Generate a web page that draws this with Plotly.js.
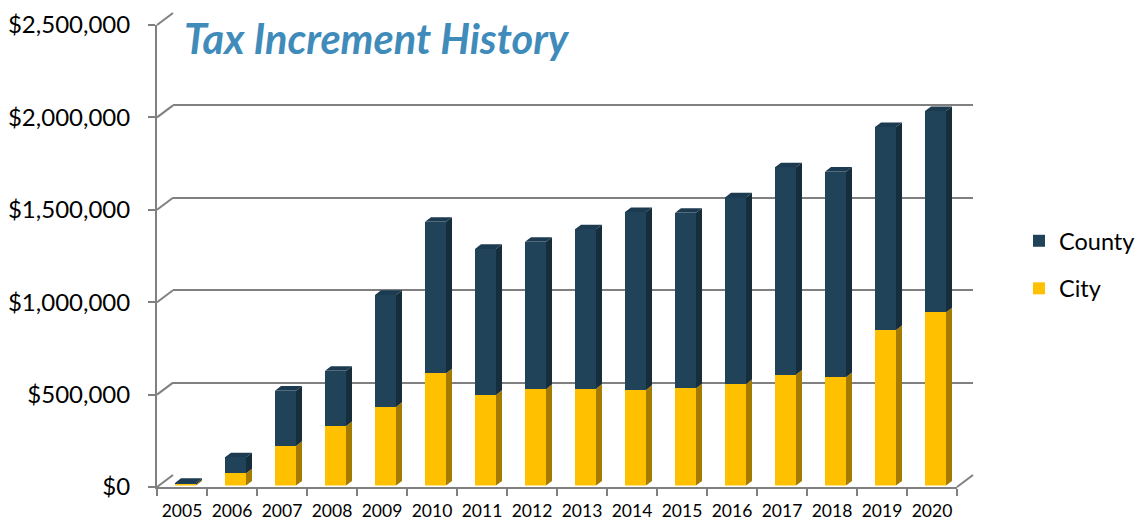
<!DOCTYPE html>
<html>
<head>
<meta charset="utf-8">
<script src="https://cdn.plot.ly/plotly-3.0.1.min.js"></script>
<style>html,body{margin:0;padding:0;background:#fff;}#chart{width:1143px;height:525px;}</style>
</head>
<body>
<div id="chart"></div>
<script>
// ---- data ----
const years = ['2005','2006','2007','2008','2009','2010','2011','2012','2013','2014','2015','2016','2017','2018','2019','2020'];
const city   = [6000, 66000, 214000, 322000, 425000, 607000, 490000, 521000, 524000, 517000, 526000, 549000, 600000, 587000, 841000, 937000];
const county = [8000, 87000, 299000, 299000, 606000, 820000, 790000, 798000, 862000, 963000, 950000, 1010000, 1122000, 1111000, 1099000, 1089000];
const yTicks = [0, 500000, 1000000, 1500000, 2000000, 2500000];
const seriesNames = ['County', 'City'];

// ---- geometry (pixels) ----
const W = 1143, H = 525;
const M = {l: 157, r: 170, t: 13, b: 38};
const PW = W - M.l - M.r;   // 816
const PH = H - M.t - M.b;   // 474
const depthX = 16, depthY = 12;       // back wall offset
const faceX = 3.5, faceY = 1.5;      // bar front-face offset
const yMax = 2500000;
const frontH = PH - depthY;          // 462
const barW = 0.42;
const sideDx = 6 / ((PW - depthX) / years.length);
const sideDy = 4.6 * yMax / frontH;

const colCounty = '#21435A', colCountySide = '#162D3C', colCountyTop = '#1D3B50';
const colCity = '#FFC000', colCitySide = '#A47B00';
const gridCol = '#808080';

const idx = years.map((_, i) => i);

function sidePolys(base, val) {
  const xs = [], ys = [];
  idx.forEach(i => {
    const b = base[i], t = base[i] + val[i];
    const x0 = i + barW / 2;
    xs.push(x0, x0 + sideDx, x0 + sideDx, x0, null);
    ys.push(b, b + sideDy, t + sideDy, t, null);
  });
  return {xs, ys};
}
function topPolys(tops) {
  const xs = [], ys = [];
  idx.forEach(i => {
    const t = tops[i];
    const xl = i - barW / 2, xr = i + barW / 2;
    xs.push(xl, xl + sideDx, xr + sideDx, xr, null);
    ys.push(t, t + sideDy, t + sideDy, t, null);
  });
  return {xs, ys};
}
const zeros = idx.map(() => 0);
const totals = idx.map(i => city[i] + county[i]);
const sCity = sidePolys(zeros, city);
const sCounty = sidePolys(city, county);
const tops = topPolys(totals);

const traces = [
  {type: 'scatter', x: years, y: zeros, xaxis: 'x', yaxis: 'y', mode: 'markers',
   marker: {opacity: 0}, showlegend: false, hoverinfo: 'skip'},
  {type: 'scatter', x: idx, y: zeros, xaxis: 'x2', yaxis: 'y2', mode: 'markers',
   marker: {opacity: 0}, showlegend: false, hoverinfo: 'skip'},
  {type: 'bar', name: seriesNames[1], x: idx, y: city, width: barW, xaxis: 'x3', yaxis: 'y3',
   marker: {color: colCity, line: {width: 0}}, legendgroup: 'b', legendrank: 2},
  {type: 'bar', name: seriesNames[0], x: idx, y: county, width: barW, xaxis: 'x3', yaxis: 'y3',
   marker: {color: colCounty, line: {width: 0}}, legendgroup: 'a', legendrank: 1},
  {type: 'scatter', x: sCity.xs, y: sCity.ys, xaxis: 'x3', yaxis: 'y3', mode: 'lines',
   fill: 'toself', fillcolor: colCitySide, line: {width: 0, color: colCitySide}, showlegend: false, hoverinfo: 'skip'},
  {type: 'scatter', x: sCounty.xs, y: sCounty.ys, xaxis: 'x3', yaxis: 'y3', mode: 'lines',
   fill: 'toself', fillcolor: colCountySide, line: {width: 0, color: colCountySide}, showlegend: false, hoverinfo: 'skip'},
  {type: 'scatter', x: tops.xs, y: tops.ys, xaxis: 'x3', yaxis: 'y3', mode: 'lines',
   fill: 'toself', fillcolor: colCountyTop, line: {width: 0, color: colCountyTop}, showlegend: false, hoverinfo: 'skip'}
];

// connectors between front axis and back wall
const shapes = [];
const frontDomTop = frontH / PH;
yTicks.forEach(v => {
  const yf = (v / yMax) * frontDomTop;
  const yb = depthY / PH + (v / yMax) * frontDomTop;
  shapes.push({type: 'line', xref: 'paper', yref: 'paper', x0: 0, y0: yf, x1: depthX / PW, y1: yb,
    line: {color: gridCol, width: 2}});
});
shapes.push({type: 'line', xref: 'paper', yref: 'paper', x0: (PW - depthX) / PW, y0: 0, x1: 1, y1: depthY / PH,
  line: {color: gridCol, width: 2}});

const fontFam = 'Lato, "Open Sans", sans-serif';
const hidden = {showgrid: false, zeroline: false, showline: false, showticklabels: false, ticks: '', fixedrange: true};

const layout = {
  width: W, height: H,
  margin: Object.assign({autoexpand: false}, M),
  paper_bgcolor: '#ffffff',
  plot_bgcolor: 'rgba(0,0,0,0)',
  barmode: 'stack',
  showlegend: true,
  font: {family: fontFam, color: '#000'},
  title: {text: 'Tax Increment History', xref: 'container', yref: 'container',
    x: 184 / W, xanchor: 'left', y: 1 - 39 / H, yanchor: 'middle',
    font: {family: fontFam, size: 41.5, color: '#3F8BBA', weight: 700, style: 'italic'}},
  xaxis: {type: 'category', domain: [0, (PW - depthX) / PW], range: [-0.5, years.length - 0.5],
    showline: true, linecolor: gridCol, linewidth: 2, ticks: 'outside', tickson: 'boundaries',
    ticklen: 7, tickwidth: 2, tickcolor: gridCol, showgrid: false, zeroline: false, tickangle: 0,
    tickfont: {family: fontFam, size: 17.5, color: '#000'}, ticklabelstandoff: 7, fixedrange: true},
  yaxis: {domain: [0, frontDomTop], range: [0, yMax], tickvals: yTicks, tickformat: '$,.0f',
    showline: true, linecolor: gridCol, linewidth: 2, ticks: 'outside', ticklen: 7, tickwidth: 2,
    tickcolor: gridCol, showgrid: false, zeroline: false,
    tickfont: {family: fontFam, size: 24, color: '#000'}, ticklabelstandoff: 13, fixedrange: true},
  xaxis2: Object.assign({domain: [depthX / PW, 1], range: [-0.5, years.length - 0.5], anchor: 'y2'}, hidden),
  yaxis2: {domain: [depthY / PH, 1], range: [0, yMax], tickvals: yTicks, anchor: 'x2',
    showgrid: true, gridcolor: gridCol, gridwidth: 2, zeroline: false, showline: false,
    showticklabels: false, ticks: '', fixedrange: true},
  xaxis3: Object.assign({domain: [faceX / PW, (PW - depthX + faceX) / PW], range: [-0.5, years.length - 0.5], anchor: 'y3'}, hidden),
  yaxis3: Object.assign({domain: [faceY / PH, (frontH + faceY) / PH], range: [0, yMax], anchor: 'x3'}, hidden),
  legend: {xref: 'container', yref: 'container', x: 1019 / W, xanchor: 'left', y: 1 - 219 / H, yanchor: 'top',
    traceorder: 'grouped', tracegroupgap: 14, bgcolor: 'rgba(0,0,0,0)',
    font: {family: fontFam, size: 23.5, color: '#000'}},
  shapes: shapes
};

Plotly.newPlot('chart', traces, layout, {displayModeBar: false, staticPlot: true});
</script>
</body>
</html>
